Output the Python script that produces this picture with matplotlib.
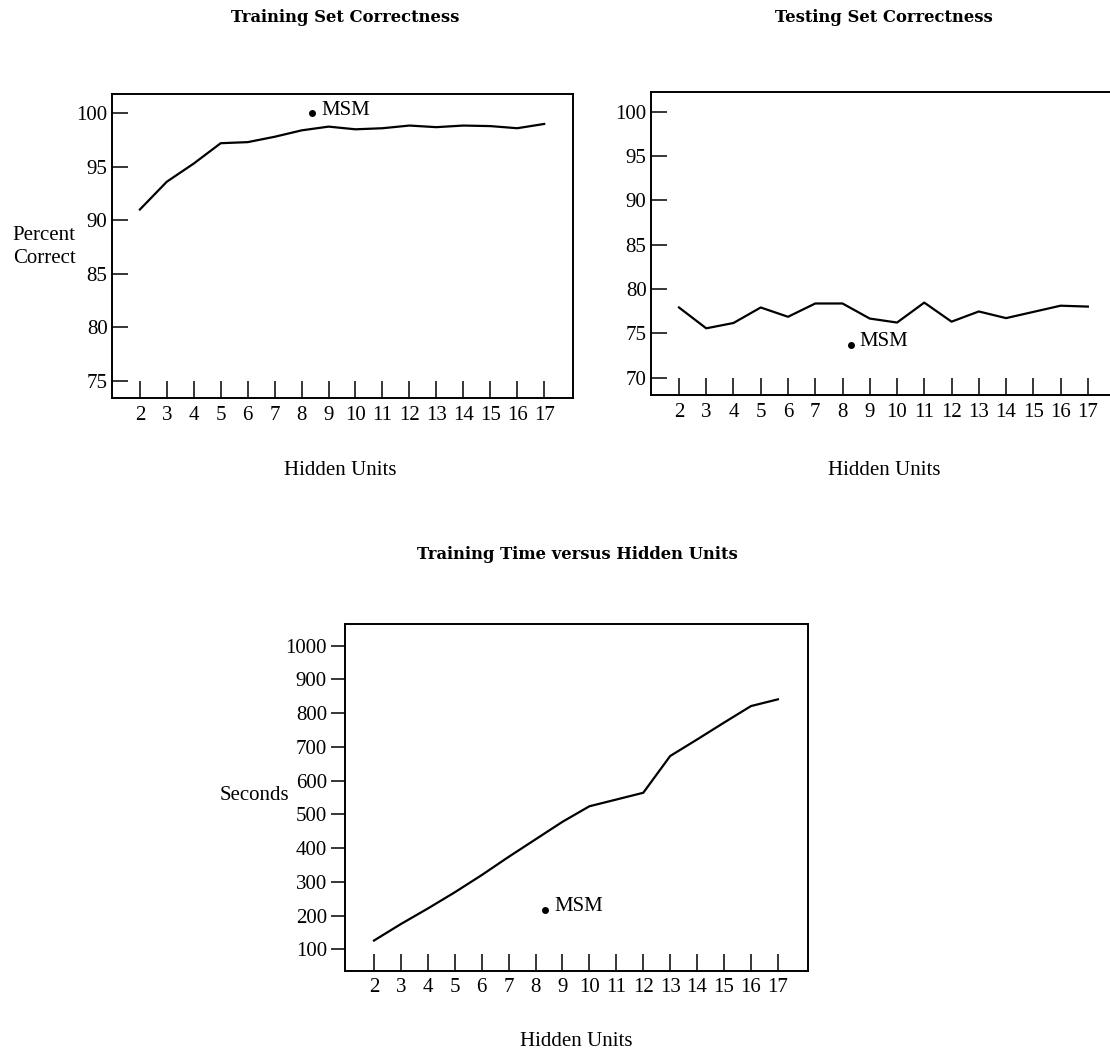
import matplotlib
matplotlib.use("Agg")
import matplotlib.pyplot as plt

# values
hidden_units = list(range(2, 18))
train_pct = [91.0, 93.6, 95.3, 97.2, 97.3, 97.8, 98.4, 98.75, 98.5, 98.6,
             98.85, 98.7, 98.85, 98.8, 98.6, 99.0]
test_pct = [77.9, 75.55, 76.15, 77.9, 76.85, 78.35, 78.35, 76.65, 76.2, 78.45,
            76.3, 77.45, 76.7, 77.4, 78.1, 78.0]
train_secs = [126, 175, 221, 269, 320, 374, 426, 478, 524, 544,
              564, 673, 722, 772, 821, 841]

msm_train = (8.4, 100.0)
msm_test = (8.3, 73.7)
msm_secs = (8.35, 218)

pct_ticks_train = [75, 80, 85, 90, 95, 100]
pct_ticks_test = [70, 75, 80, 85, 90, 95, 100]
secs_ticks = [100, 200, 300, 400, 500, 600, 700, 800, 900, 1000]

W, H = 1110, 1052
plt.rcParams["font.family"] = ["Liberation Serif", "DejaVu Serif"]
fig = plt.figure(figsize=(W / 100, H / 100), dpi=100)


def px_axes(left, top, right, bottom):
    return fig.add_axes([left / W, 1 - bottom / H, (right - left) / W, (bottom - top) / H])


def style(ax, yticks, ydir="in", ylen=11.5):
    ax.set_xticks(hidden_units)
    ax.set_yticks(yticks)
    ax.tick_params(axis="x", direction="in", length=12, width=1.1, pad=5.5,
                   labelsize=15, bottom=True, top=False)
    ax.tick_params(axis="y", direction=ydir, length=ylen, width=1.1, pad=3,
                   labelsize=15, left=True, right=False)
    for s in ax.spines.values():
        s.set_linewidth(1.4)


def msm(ax, pt):
    ax.plot([pt[0]], [pt[1]], "o", color="black", markersize=4)
    ax.annotate("MSM", xy=pt, xytext=(6.5, 2.2), textcoords="offset points",
                ha="left", va="center", fontsize=15)


# Training set correctness
ax1 = px_axes(111.7, 94, 573, 398)
ax1.plot(hidden_units, train_pct, color="black", linewidth=1.6)
msm(ax1, msm_train)
ax1.set_xlim(0.955, 18.07)
ax1.set_ylim(73.38, 101.8)
style(ax1, pct_ticks_train)

# Testing set correctness
ax2 = px_axes(650.7, 92, 1117, 395)
ax2.plot(hidden_units, test_pct, color="black", linewidth=1.6)
msm(ax2, msm_test)
ax2.set_xlim(0.963, 18.07)
ax2.set_ylim(68.03, 102.2)
style(ax2, pct_ticks_test)

# Training time
ax3 = px_axes(345, 624, 807.5, 970.7)
ax3.plot(hidden_units, train_secs, color="black", linewidth=1.6)
msm(ax3, msm_secs)
ax3.set_xlim(0.923, 18.1)
ax3.set_ylim(36.6, 1064.3)
style(ax3, secs_ticks, ydir="out", ylen=10)

title_kw = dict(fontsize=11.8, fontweight="bold", family="DejaVu Serif", ha="center", va="baseline")
fig.text(345 / W, 1 - 22 / H, "Training Set Correctness", **title_kw)
fig.text(884 / W, 1 - 22 / H, "Testing Set Correctness", **title_kw)
fig.text(577 / W, 1 - 559 / H, "Training Time versus Hidden Units", **title_kw)

lab_kw = dict(fontsize=15, ha="center", va="baseline")
fig.text(340 / W, 1 - 475 / H, "Hidden Units", **lab_kw)
fig.text(884 / W, 1 - 475 / H, "Hidden Units", **lab_kw)
fig.text(576 / W, 1 - 1046 / H, "Hidden Units", **lab_kw)

fig.text(44 / W, 1 - 247 / H, "Percent\nCorrect", fontsize=15, ha="center", va="center",
         multialignment="center", linespacing=1.35)
fig.text(289 / W, 1 - 795 / H, "Seconds", fontsize=15, ha="right", va="center")

fig.savefig("out.png", dpi=100)
